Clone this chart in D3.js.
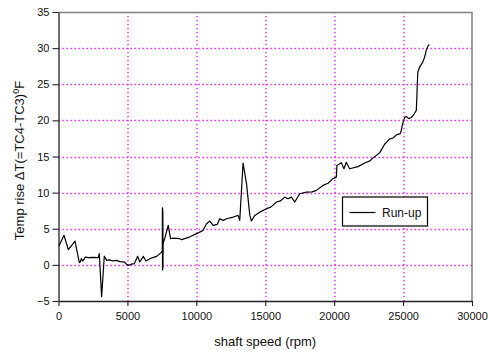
<!DOCTYPE html>
<html>
<head>
<meta charset="utf-8">
<script src="https://cdn.jsdelivr.net/npm/d3@7"></script>
<style>
  body { margin: 0; background: #ffffff; }
</style>
</head>
<body>
<div id="chart"></div>
<script>

// run-up trace
const rpm = [30, 400, 710, 1200, 1510, 1600, 1650, 1760, 1950, 2200, 2500, 2880, 2960, 3130, 3320,
  3500, 3700, 3900, 4200, 4450, 4800, 4940, 5060, 5300, 5500, 5740, 5900, 6150, 6340, 6630,
  7120, 7480, 7530, 7540, 7548, 7556, 7563, 7570, 7578, 7592, 7720, 7960, 8130, 8300, 8800, 8930, 9500,
  10015, 10490, 10740, 10980, 11220, 11510, 11700, 11940, 12190, 12670, 13030, 13150, 13390, 13640, 13880,
  14000, 14240, 14600, 15090, 15400, 15810, 16100, 16410, 16650, 16900, 17140, 17500, 17990, 18400, 18710, 19190, 19550, 19910, 20160,
  20200, 20520, 20710, 20880, 21120, 21730, 22210, 22600, 22810, 23300, 23660, 24020, 24300, 24510, 24800, 24870, 24940,
  25040, 25110, 25230, 25420, 25600, 25760, 25960, 26000, 26030, 26070, 26200, 26430, 26560, 26680, 26800, 26900];

const tempRise = [2.6, 4.1, 2.1, 3.3, 0.3, 0.45, 0.86, 0.53, 1.08, 1.0, 1.05, 1.0, 1.55, -4.4, 1.2,
  0.62, 0.7, 0.55, 0.62, 0.45, 0.39, 0.07, -0.07, 0.1, 0.17, 1.18, 0.39, 1.18, 0.53, 0.86,
  1.18, 1.77, 1.9, 7.9, -0.7, 7.8, -0.6, 7.5, -0.4, 3.0, 3.76, 5.47, 3.62, 3.7, 3.62, 3.49, 3.85,
  4.32, 4.78, 5.7, 6.07, 5.47, 5.6, 6.39, 6.16, 6.39, 6.62, 6.85, 6.16, 14.1, 11.24, 6.85,
  6.07, 6.85, 7.3, 7.78, 8.0, 8.7, 8.85, 9.38, 9.16, 9.38, 8.7, 9.85, 10.08, 10.1, 10.31, 11.0, 11.3, 11.93, 12.15,
  13.77, 14.15, 13.31, 14.2, 13.31, 13.6, 14.1, 14.4, 14.8, 15.5, 16.7, 17.4, 17.6, 18.0, 18.16, 18.6, 19.3,
  20.0, 20.4, 20.55, 20.24, 20.4, 20.75, 21.38, 23.2, 25.08, 26.7, 27.38, 28.07, 28.76, 29.69, 30.28, 30.5];

const xTicks = [0, 5000, 10000, 15000, 20000, 25000, 30000];
const yTicks = [-5, 0, 5, 10, 15, 20, 25, 30, 35];
const seriesName = "Run-up";



//--------------------------------------
// CONSTRUCTOR
//--------------------------------------

function RunUpChart_CTRL (target) {

  this.fontFamily = "Liberation Sans, Arial, Helvetica, sans-serif";
  this.margin = { left: 58.5, top: 12, right: 16, bottom: 54 };
  this.width = 488;
  this.height = 355;
  this.svgContainer = null;
  this.plot = null;

  _createSVG.call(this, target);

}



function _createSVG(target) {

  this.svgContainer = d3.select(target).append("svg")
    .attr("width", this.width)
    .attr("height", this.height);

  this.innerW = this.width - this.margin.left - this.margin.right;
  this.innerH = this.height - this.margin.top - this.margin.bottom;

  this.x = d3.scaleLinear().domain([0, 30000]).range([0, this.innerW]);
  this.y = d3.scaleLinear().domain([-5, 35]).range([this.innerH, 0]);

  this.plot = this.svgContainer.append("g")
    .attr("transform", "translate(" + this.margin.left + "," + this.margin.top + ")");

}



RunUpChart_CTRL.prototype.drawGrid = function () {

  let x = this.x, y = this.y;

  this.plot.selectAll("line.vgrid")
    .data(xTicks.slice(1, -1))
    .enter().append("line")
    .attr("class", "vgrid")
    .attr("x1", function(d) { return Math.round(x(d)) + 0.5; })
    .attr("x2", function(d) { return Math.round(x(d)) + 0.5; })
    .attr("y1", 0)
    .attr("y2", this.innerH)
    .attr("stroke", "#ff00ff")
    .attr("stroke-width", 1.3)
    .attr("stroke-dasharray", "1.3,2.7");

  this.plot.selectAll("line.hgrid")
    .data(yTicks.slice(1, -1))
    .enter().append("line")
    .attr("class", "hgrid")
    .attr("x1", 0)
    .attr("x2", this.innerW)
    .attr("y1", function(d) { return Math.round(y(d)) + 0.5; })
    .attr("y2", function(d) { return Math.round(y(d)) + 0.5; })
    .attr("stroke", "#ff00ff")
    .attr("stroke-width", 1.3)
    .attr("stroke-dasharray", "1.3,2.7");

  // plot area border (top / right)
  this.plot.append("path")
    .attr("d", "M0,0.5H" + this.innerW + "V" + this.innerH)
    .attr("fill", "none")
    .attr("stroke", "#808080")
    .attr("stroke-width", 1.5);

}



RunUpChart_CTRL.prototype.drawAxes = function () {

  let xAxis = d3.axisBottom(this.x).tickValues(xTicks).tickSize(5).tickSizeOuter(0).tickPadding(6)
    .tickFormat(d3.format("d"));
  let yAxis = d3.axisLeft(this.y).tickValues(yTicks).tickSize(6).tickSizeOuter(0).tickPadding(3)
    .tickFormat(d3.format("d"));

  let gx = this.plot.append("g")
    .attr("transform", "translate(0," + this.innerH + ")")
    .call(xAxis);

  let gy = this.plot.append("g").call(yAxis);

  [gx, gy].forEach(function (g) {
    g.select(".domain").attr("stroke", "#222").attr("stroke-width", 1.3);
    g.selectAll(".tick line").attr("stroke", "#222").attr("stroke-width", 1.1);
    g.selectAll("text")
      .attr("font-family", this.fontFamily)
      .attr("font-size", 11)
      .attr("fill", "#111");
  }.bind(this));

  this.svgContainer.append("text")
    .attr("text-anchor", "middle")
    .attr("x", this.margin.left + this.innerW / 2)
    .attr("y", 346)
    .attr("font-family", this.fontFamily)
    .attr("font-size", 13)
    .attr("fill", "#111")
    .text("shaft speed (rpm)");

  let yTitle = this.svgContainer.append("text")
    .attr("text-anchor", "middle")
    .attr("transform", "translate(24," + (this.margin.top + this.innerH / 2 + 4) + ") rotate(-90)")
    .attr("font-family", this.fontFamily)
    .attr("font-size", 13)
    .attr("fill", "#111");

  yTitle.append("tspan").text("Temp rise \u0394T(=TC4-TC3)");
  yTitle.append("tspan").attr("font-size", 9).attr("dy", -5).text("0");
  yTitle.append("tspan").attr("dy", 5).text("F");

}



RunUpChart_CTRL.prototype.drawLine = function () {

  let x = this.x, y = this.y;
  let points = rpm.map(function (r, i) { return [r, tempRise[i]]; });

  let line = d3.line()
    .x(function(d) { return x(d[0]); })
    .y(function(d) { return y(d[1]); });

  this.plot.append("path")
    .datum(points)
    .attr("d", line)
    .attr("fill", "none")
    .attr("stroke", "#000")
    .attr("stroke-width", 1.2)
    .attr("stroke-linejoin", "round");

}



RunUpChart_CTRL.prototype.drawLegend = function () {

  let legend = this.svgContainer.append("g")
    .attr("transform", "translate(342.5,197)");

  legend.append("rect")
    .attr("width", 85)
    .attr("height", 29)
    .attr("fill", "#fff")
    .attr("stroke", "#000")
    .attr("stroke-width", 1.2);

  legend.append("line")
    .attr("x1", 7).attr("x2", 33)
    .attr("y1", 15.5).attr("y2", 15.5)
    .attr("stroke", "#000")
    .attr("stroke-width", 1.2);

  legend.append("text")
    .attr("x", 39.5)
    .attr("y", 19.5)
    .attr("font-family", this.fontFamily)
    .attr("font-size", 12)
    .attr("fill", "#111")
    .text(seriesName);

}



let chart = new RunUpChart_CTRL("#chart");
chart.drawGrid();
chart.drawAxes();
chart.drawLine();
chart.drawLegend();

</script>
</body>
</html>
